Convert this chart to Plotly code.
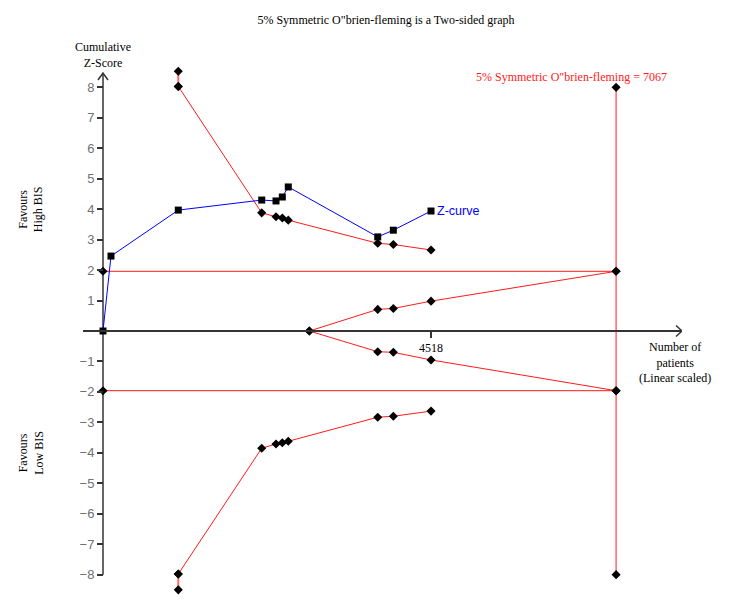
"""
Trial sequential analysis chart - O'Brien-Fleming boundaries and Z-curve
"""

import plotly.graph_objects as go

# cumulative Z-curve
patients = [0, 110, 1037, 2186, 2383, 2470, 2552, 3784, 3999, 4518]
z_curve = [0, 2.46, 3.97, 4.30, 4.27, 4.40, 4.73, 3.09, 3.31, 3.94]

# monitoring boundaries (first two points are the truncated part)
bound_x = [1037, 1037, 2186, 2383, 2470, 2552, 3784, 3999, 4518]
upper_bound = [8.53, 8.03, 3.88, 3.75, 3.71, 3.64, 2.88, 2.84, 2.66]
lower_bound = [-8.50, -7.98, -3.85, -3.71, -3.67, -3.62, -2.83, -2.80, -2.63]

# futility wedge
futility_x = [2842, 3784, 3999, 4518, 7067]
futility_upper = [0, 0.71, 0.74, 0.98, 1.96]
futility_lower = [0, -0.68, -0.70, -0.95, -1.96]

# required information size and conventional boundaries
ris = 7067
ris_span = [-8, 8]
conventional = [1.96, -1.96]

y_ticks = [-8, -7, -6, -5, -4, -3, -2, -1, 1, 2, 3, 4, 5, 6, 7, 8]
x_ticks = [4518]

# axis ranges (x starts a bit left of 0 so the y axis is not clipped)
X_MIN = -275.5
X_MAX = 7975
Y_LIM = 8.8
Y_TOP = 8.47
Y_AXIS_POS = -X_MIN / (X_MAX - X_MIN)

SERIF = "Liberation Serif, Times New Roman, serif"
SANS = "Liberation Sans, Arial, sans-serif"
RED = "#ff1a1a"
AXIS = "#333333"

diamond = dict(symbol="diamond", size=7, color="black")

fig = go.Figure()

# conventional boundaries at +/-1.96
for z in conventional:
    fig.add_trace(go.Scatter(x=[0, ris], y=[z, z], mode="lines+markers",
                             line=dict(color=RED, width=1), marker=diamond, cliponaxis=False))

# RIS vertical line
fig.add_trace(go.Scatter(x=[ris, ris], y=ris_span, mode="lines+markers",
                         line=dict(color=RED, width=1), marker=diamond, cliponaxis=False))

# O'Brien-Fleming boundaries
for bound in [upper_bound, lower_bound]:
    fig.add_trace(go.Scatter(x=bound_x[:2], y=bound[:2], mode="lines+markers",
                             line=dict(color="#ff6b6b", width=2), marker=diamond, cliponaxis=False))
    fig.add_trace(go.Scatter(x=bound_x[1:], y=bound[1:], mode="lines+markers",
                             line=dict(color=RED, width=1), marker=diamond, cliponaxis=False))

# futility
for fut in [futility_upper, futility_lower]:
    fig.add_trace(go.Scatter(x=futility_x, y=fut, mode="lines+markers",
                             line=dict(color=RED, width=1), marker=diamond, cliponaxis=False))

# Z-curve
fig.add_trace(go.Scatter(x=patients, y=z_curve, mode="lines+markers",
                         line=dict(color="#0000ff", width=1),
                         marker=dict(symbol="square", size=7, color="black"), cliponaxis=False))

# y axis line + arrow heads
fig.add_shape(type="line", x0=0, x1=0, y0=-8, y1=Y_TOP, line=dict(color=AXIS, width=1.5), layer="below")
fig.add_shape(type="path", xsizemode="pixel", ysizemode="pixel", xanchor=0, yanchor=Y_TOP,
              path="M -5,-7 L 0,0 L 5,-7", line=dict(color=AXIS, width=1.5))
fig.add_shape(type="path", xsizemode="pixel", ysizemode="pixel", xanchor=X_MAX, yanchor=0,
              path="M -6,5.5 L 0,0 L -6,-5.5", line=dict(color=AXIS, width=1.5))

# texts
fig.add_annotation(x=0, y=1.015, yref="paper", yanchor="middle", text="Cumulative<br>Z-Score",
                   showarrow=False, font=dict(family=SERIF, size=12, color="black"))
fig.add_annotation(x=-0.0868, xref="paper", xanchor="center", y=4, text="Favours<br>High BIS",
                   showarrow=False, textangle=-90, font=dict(family=SERIF, size=12, color="black"))
fig.add_annotation(x=-0.0868, xref="paper", xanchor="center", y=-4, text="Favours<br>Low BIS",
                   showarrow=False, textangle=-90, font=dict(family=SERIF, size=12, color="black"))
fig.add_annotation(x=7879, y=-1.04, text="Number of<br>patients<br>(Linear scaled)", showarrow=False,
                   font=dict(family=SERIF, size=12, color="black"))
fig.add_annotation(x=6453, y=8.35, text=f"5% Symmetric O\"brien-fleming = {ris}", showarrow=False,
                   font=dict(family=SERIF, size=12, color=RED))
fig.add_annotation(x=patients[-1], y=z_curve[-1], text="Z-curve", showarrow=False,
                   xanchor="left", xshift=4,
                   font=dict(family=SANS, size=12.5, color="#0000ff"))

fig.update_layout(
    title=dict(text="5% Symmetric O\"brien-fleming is a Two-sided graph", x=0.504, y=1 - 12 / 612,
               xanchor="center", yanchor="middle", font=dict(family=SERIF, size=12, color="black")),
    width=750, height=612,
    margin=dict(l=75, r=76, t=55, b=21),
    plot_bgcolor="white", paper_bgcolor="white",
    showlegend=False,
    xaxis=dict(range=[X_MIN, X_MAX], anchor="free", position=0.5, showline=True,
               linecolor=AXIS, linewidth=1.5, ticks="outside", tickvals=x_ticks,
               ticklen=6, tickwidth=1.5, tickcolor=AXIS, showgrid=False, zeroline=False,
               tickfont=dict(family=SERIF, size=12, color="black")),
    yaxis=dict(range=[-Y_LIM, Y_LIM], anchor="free", position=Y_AXIS_POS, showline=False,
               ticks="outside", tickvals=y_ticks,
               ticklen=6, tickwidth=1.5, tickcolor=AXIS, showgrid=False, zeroline=False,
               tickfont=dict(family=SANS, size=13, color="#707070")),
)

fig.write_html("out.html")
